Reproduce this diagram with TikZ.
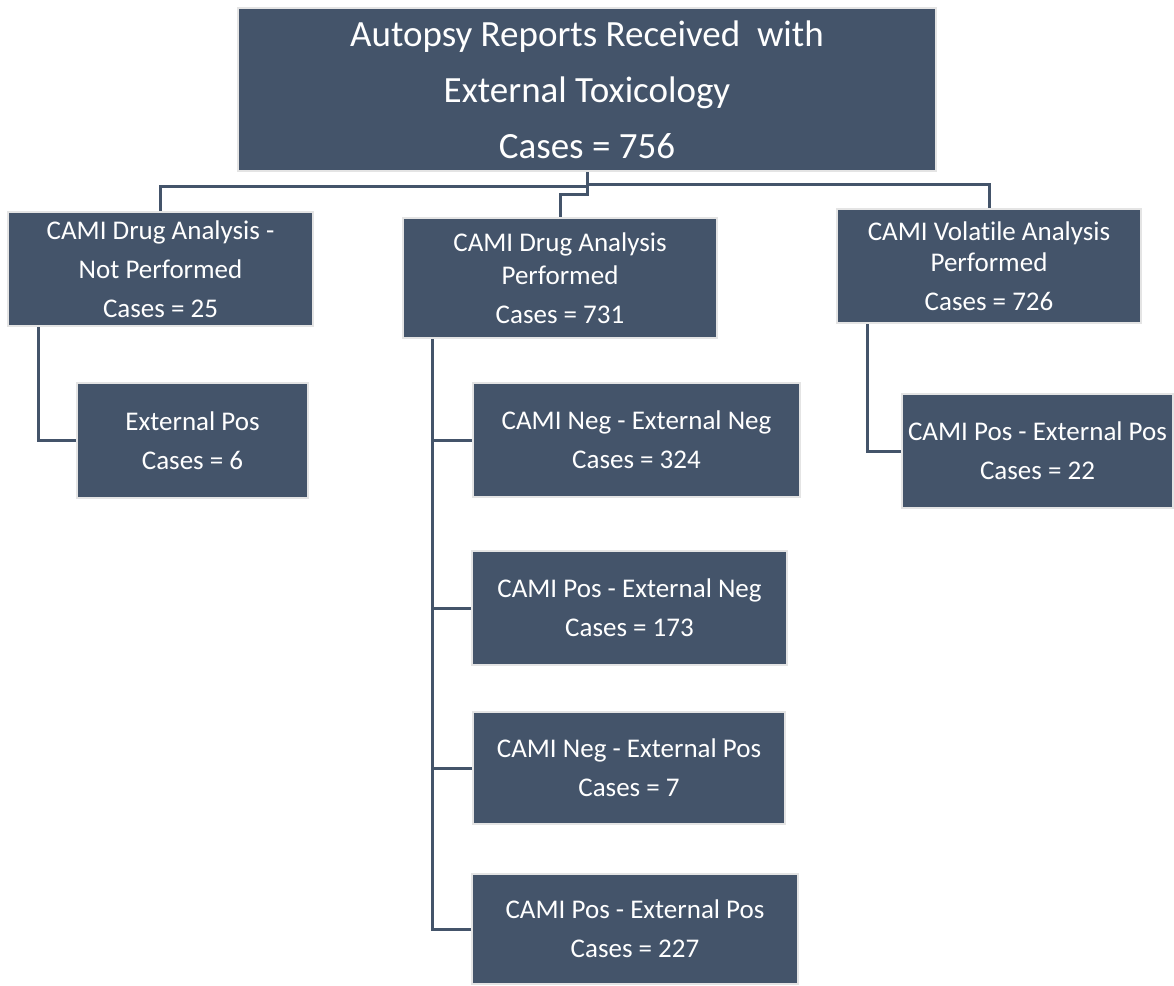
\documentclass[tikz,border=0pt]{standalone}
\usepackage{fontspec}
\setmainfont[Ligatures=NoCommon]{Carlito}
\usepackage{xcolor}
\definecolor{slate}{HTML}{44546A}
\definecolor{edge}{HTML}{E4E4E4}
\usetikzlibrary{positioning}

\begin{document}
\begin{tikzpicture}[
    x = 1pt, y = -1pt,
    box/.style = {
        draw=edge, line width=2pt, fill=slate, text=white,
        rectangle, align=center, inner sep=0pt
    },
    small/.style = {box, font=\fontsize{27}{39}\selectfont},
    link/.style = {draw=slate, line width=3pt}
  ]
    \useasboundingbox (0,0) rectangle (1174,985);
    % root
    \node[box, minimum width=698pt, minimum height=163pt,
          font=\fontsize{37}{56}\selectfont] (top) at (587,89.5)
          {Autopsy Reports Received\ \ with\\External Toxicology\\Cases = 756};
    % second level
    \node[small, minimum width=305pt, minimum height=114pt] (notperf) at (160.5,269)
          {CAMI Drug Analysis -\\Not Performed\\Cases = 25};
    \node[small, minimum width=314pt, minimum height=120pt,
          font=\fontsize{27}{33}\selectfont] (perf) at (560,278)
          {CAMI Drug Analysis\\Performed\\[6pt]Cases = 731};
    \node[small, minimum width=304pt, minimum height=114pt,
          font=\fontsize{27}{31}\selectfont] (volat) at (989,266)
          {CAMI Volatile Analysis\\Performed\\[8pt]Cases = 726};
    % third level
    \node[small, minimum width=231pt, minimum height=115pt] (extpos) at (192.5,440.5)
          {External Pos\\Cases = 6};
    \node[small, minimum width=327pt, minimum height=114pt] (negneg) at (636.5,440)
          {CAMI Neg - External Neg\\Cases = 324};
    \node[small, minimum width=315pt, minimum height=114pt] (posneg) at (629.5,608)
          {CAMI Pos - External Neg\\Cases = 173};
    \node[small, minimum width=312pt, minimum height=112pt] (negpos) at (629,768)
          {CAMI Neg - External Pos\\Cases = 7};
    \node[small, minimum width=326pt, minimum height=110pt] (pospos) at (635,929)
          {CAMI Pos - External Pos\\Cases = 227};
    \node[small, minimum width=271pt, minimum height=114pt] (volpos) at (1037.5,451)
          {CAMI Pos - External Pos\\Cases = 22};
    % connectors
    \draw[link] (top.south) -- ++(0,14) -| (notperf.north);
    \draw[link] (top.south) -- ++(0,12) -| (volat.north);
    \draw[link] (top.south) -- ++(0,22) -| (perf.north);
    \draw[link] ([xshift=31pt]notperf.south west) |- (extpos.west);
    \draw[link] ([xshift=30pt]perf.south west) |- (pospos.west);
    \foreach \n in {negneg, posneg, negpos}
        \draw[link] ([xshift=30pt]perf.south west) |- (\n.west);
    \draw[link] ([xshift=31pt]volat.south west) |- (volpos.west);
\end{tikzpicture}
\end{document}
